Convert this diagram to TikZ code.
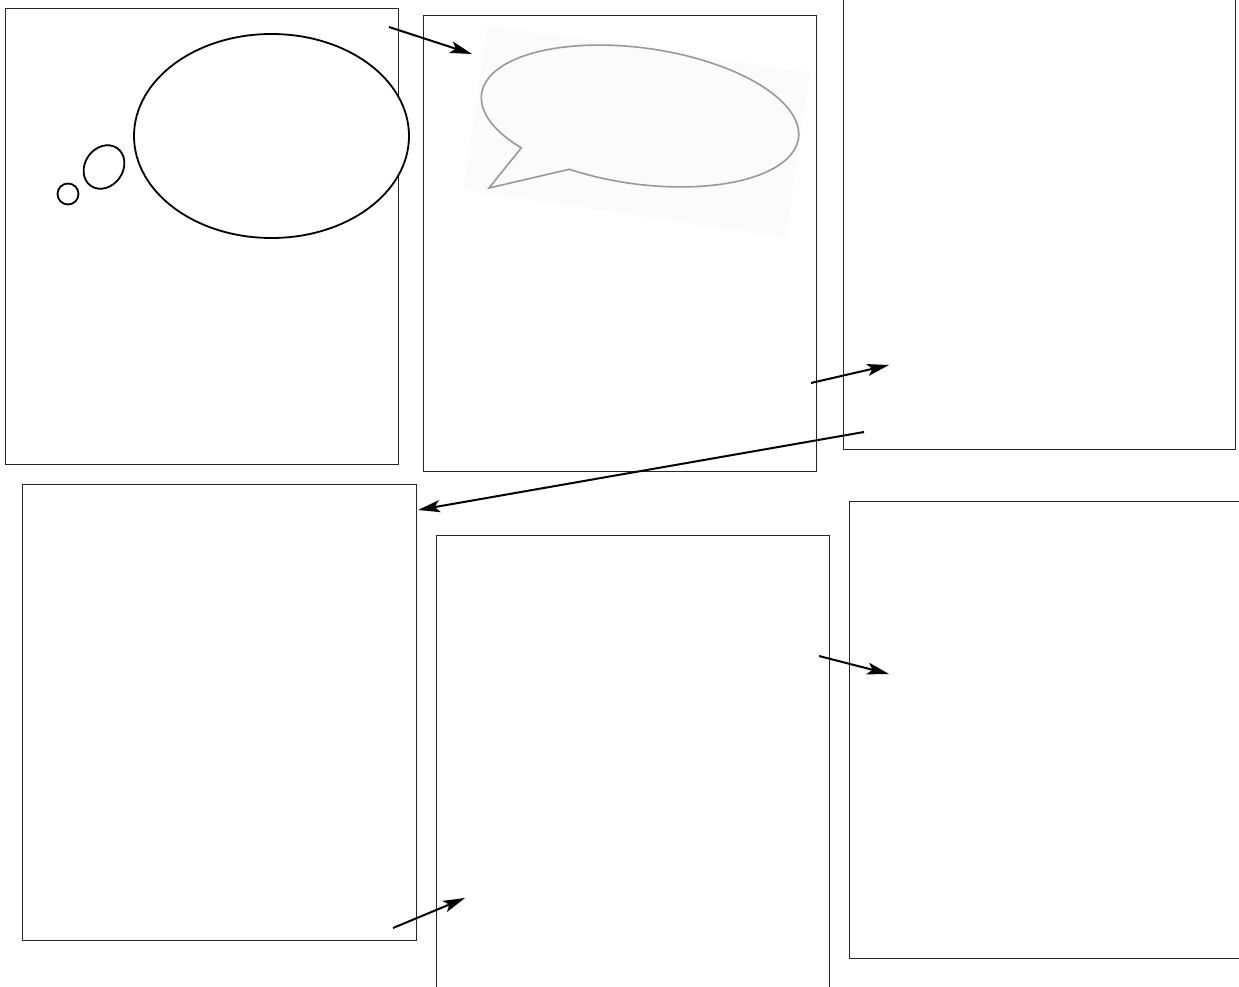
\documentclass[tikz,border=0pt]{standalone}
\usetikzlibrary{arrows.meta}
\begin{document}
\begin{tikzpicture}[x=1pt,y=-1pt,
  panel/.style={draw=black!85,line width=0.9pt},
  link/.style={line width=2pt,-{Stealth[length=22pt,width=12pt,inset=5pt]}},
  thought/.style={draw=black,line width=1.8pt}]
\useasboundingbox (0,0) rectangle (1239,987);
\clip (0,0) rectangle (1239,987);
% panels
\node[panel,inner sep=0,minimum width=393pt,minimum height=456pt,anchor=north west] (p1) at (5,8) {};
\node[panel,inner sep=0,minimum width=393pt,minimum height=456pt,anchor=north west] (p2) at (423,15) {};
\node[panel,inner sep=0,minimum width=392pt,minimum height=469pt,anchor=north west] (p3) at (843,-20) {};
\node[panel,inner sep=0,minimum width=394pt,minimum height=456pt,anchor=north west] (p4) at (22,484) {};
\node[panel,inner sep=0,minimum width=393pt,minimum height=470pt,anchor=north west] (p5) at (436,535) {};
\node[panel,inner sep=0,minimum width=400pt,minimum height=457pt,anchor=north west] (p6) at (849,501) {};
% thought bubble
\draw[thought,fill=white] (271.5,136) ellipse [x radius=137.5, y radius=102];
\draw[line width=1.8pt,rotate around={-35:(104,167)}] (104,167) ellipse [x radius=19, y radius=23];
\draw[line width=1.8pt] (68,194) circle [radius=10.5];
% speech bubble image
\fill[black!1.5] (487,25) -- (810,72) -- (786,238) -- (463,190) -- cycle;
\begin{scope}[shift={(640,116)},rotate=-8]
\draw[black!40,line width=1.6pt]
  (-139.5,92.3) -- (113:160 and 68)
  arc[start angle=113,end angle=-225,x radius=160,y radius=68] -- cycle;
\end{scope}
% connectors
\coordinate (a1s) at (389,27); \coordinate (a1e) at (472,54);
\coordinate (a2s) at (811,383); \coordinate (a2e) at (889,365);
\coordinate (a3s) at (864,432); \coordinate (a3e) at (418,510);
\coordinate (a4s) at (819,656); \coordinate (a4e) at (889,674);
\coordinate (a5s) at (393,928); \coordinate (a5e) at (465,898);
\draw[link] (a1s) -- (a1e);
\draw[link] (a2s) -- (a2e);
\draw[link] (a3s) -- (a3e);
\draw[link] (a4s) -- (a4e);
\draw[link] (a5s) -- (a5e);
\end{tikzpicture}
\end{document}
